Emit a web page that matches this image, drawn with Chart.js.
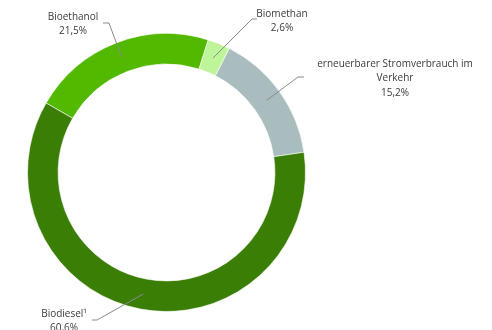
<!DOCTYPE html>
<html>
<head>
<meta charset="utf-8">
<script src="https://cdn.jsdelivr.net/npm/chart.js@4"></script>
<style>
  html, body { margin: 0; padding: 0; background: #fff; }
  #wrap { width: 492px; height: 330px; position: relative; }
</style>
</head>
<body>
<div id="wrap"><canvas id="chart"></canvas></div>
<script>
// Data
const categories = ['Bioethanol', 'Biomethan', 'erneuerbarer Stromverbrauch im Verkehr', 'Biodiesel¹'];
const shares = [21.5, 2.6, 15.2, 60.6];

// Colors
const sliceColors = ['#52b900', '#bdf598', '#a9bdbf', '#3b7e05'];

// Label layout: text lines, text centre, elbow and stub end of the leader line
const labelLayout = [
    { lines: ['Bioethanol'], x: 73, y: 17, elbow: [109, 23], stub: [103, 23] },
    { lines: ['Biomethan'], x: 282, y: 14, elbow: [252, 19], stub: [257, 19] },
    { lines: ['erneuerbarer Stromverbrauch im', 'Verkehr'], x: 395, y: 64, elbow: [298, 77], stub: [304, 77] },
    { lines: ['Biodiesel¹'], x: 64, y: 314, elbow: [97, 320], stub: [92, 320] }
];

function fmtPct(v) {
    return v.toFixed(1).replace('.', ',') + '%';
}

const labelPlugin = {
    id: 'outerLabels',
    afterDraw(chart) {
        const ctx = chart.ctx;
        const arcs = chart.getDatasetMeta(0).data;
        ctx.save();
        arcs.forEach((arc, i) => {
            const l = labelLayout[i];
            const p = arc.getCenterPoint();
            // leader line
            ctx.strokeStyle = '#8a8a8a';
            ctx.lineWidth = 1;
            ctx.beginPath();
            ctx.moveTo(p.x, p.y);
            ctx.lineTo(l.elbow[0], l.elbow[1]);
            ctx.lineTo(l.stub[0], l.stub[1]);
            ctx.stroke();
            // text
            ctx.fillStyle = '#3a3a3a';
            ctx.font = '10px "Open Sans", sans-serif';
            ctx.textAlign = 'center';
            ctx.textBaseline = 'middle';
            const lines = l.lines.concat([fmtPct(shares[i])]);
            lines.forEach((t, k) => ctx.fillText(t, l.x, l.y + k * 14.5));
        });
        ctx.restore();
    }
};

new Chart(document.getElementById('chart'), {
    type: 'doughnut',
    data: {
        labels: categories,
        datasets: [{
            data: shares,
            backgroundColor: sliceColors,
            borderColor: 'rgba(255,255,255,0.6)',
            borderWidth: 1
        }]
    },
    options: {
        responsive: true,
        maintainAspectRatio: false,
        animation: false,
        rotation: -60,
        cutout: '78%',
        layout: { padding: { left: 27, right: 186, top: 33, bottom: 18 } },
        plugins: {
            legend: { display: false },
            tooltip: { enabled: false }
        }
    },
    plugins: [labelPlugin]
});
</script>
</body>
</html>
